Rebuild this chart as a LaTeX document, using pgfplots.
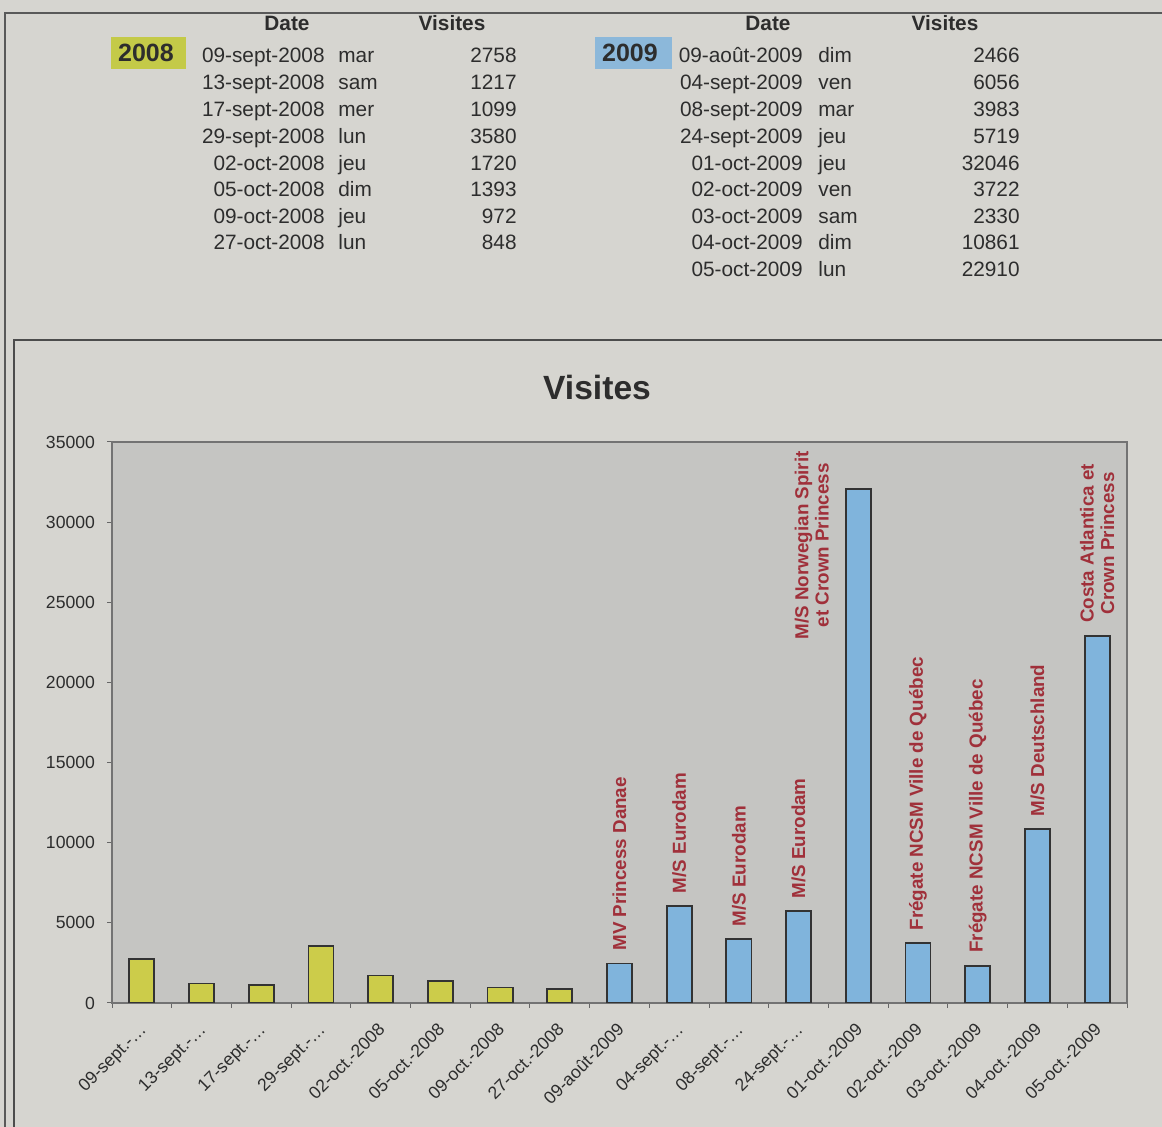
\documentclass[border=0pt]{standalone}
\usepackage{pgfplots}
\pgfplotsset{compat=1.18}
\usepackage{fontspec}
\setmainfont{Liberation Sans}
\definecolor{paper}{RGB}{214,213,208}
\definecolor{plotbg}{RGB}{197,197,194}
\definecolor{yellowbar}{RGB}{204,204,74}
\definecolor{bluebar}{RGB}{128,180,220}
\definecolor{yellowhl}{RGB}{196,202,72}
\definecolor{bluehl}{RGB}{140,184,218}
\definecolor{labelred}{RGB}{160,48,58}
\definecolor{ink}{RGB}{45,45,45}
\newcommand{\rowA}[4]{%
  \node[anchor=base east,inner sep=0pt] at (162.5pt,#1pt) {#2};
  \node[anchor=base west,inner sep=0pt] at (169pt,#1pt) {#3};
  \node[anchor=base east,inner sep=0pt] at (258.5pt,#1pt) {#4};}
\newcommand{\rowB}[4]{%
  \node[anchor=base east,inner sep=0pt] at (401.5pt,#1pt) {#2};
  \node[anchor=base west,inner sep=0pt] at (409pt,#1pt) {#3};
  \node[anchor=base east,inner sep=0pt] at (510pt,#1pt) {#4};}
\begin{document}
\begin{tikzpicture}
\useasboundingbox (0,0) rectangle (581pt,563.5pt);
\fill[paper] (0,0) rectangle (581pt,563.5pt);
% frames
\draw[line width=0.7pt, black!65] (2.5pt,0) -- (2.5pt,557pt) -- (581pt,557pt);
\draw[line width=1.1pt, black!70] (7pt,0) -- (7pt,393.5pt) -- (581pt,393.5pt);
% table
\begin{scope}[text=ink, font=\fontsize{10.4}{12}\selectfont]
\node[font=\bfseries\fontsize{10.4}{12}\selectfont] at (143.5pt,552pt) {Date};
\node[font=\bfseries\fontsize{10.4}{12}\selectfont] at (226pt,552pt) {Visites};
\node[font=\bfseries\fontsize{10.4}{12}\selectfont] at (384pt,552pt) {Date};
\node[font=\bfseries\fontsize{10.4}{12}\selectfont] at (472.5pt,552pt) {Visites};
\fill[yellowhl] (55.5pt,529pt) rectangle (93pt,545pt);
\node[font=\bfseries\fontsize{12.5}{14}\selectfont] at (73pt,537pt) {2008};
\fill[bluehl] (297.5pt,529pt) rectangle (336pt,545pt);
\node[font=\bfseries\fontsize{12.5}{14}\selectfont] at (315pt,537pt) {2009};
\rowA{532}{09-sept-2008}{mar}{2758}
\rowA{518.5}{13-sept-2008}{sam}{1217}
\rowA{505}{17-sept-2008}{mer}{1099}
\rowA{491.5}{29-sept-2008}{lun}{3580}
\rowA{478}{02-oct-2008}{jeu}{1720}
\rowA{465}{05-oct-2008}{dim}{1393}
\rowA{451.5}{09-oct-2008}{jeu}{972}
\rowA{438.5}{27-oct-2008}{lun}{848}
\rowB{532}{09-août-2009}{dim}{2466}
\rowB{518.5}{04-sept-2009}{ven}{6056}
\rowB{505}{08-sept-2009}{mar}{3983}
\rowB{491.5}{24-sept-2009}{jeu}{5719}
\rowB{478}{01-oct-2009}{jeu}{32046}
\rowB{465}{02-oct-2009}{ven}{3722}
\rowB{451.5}{03-oct-2009}{sam}{2330}
\rowB{438.5}{04-oct-2009}{dim}{10861}
\rowB{425}{05-oct-2009}{lun}{22910}
\end{scope}
\node[text=ink, font=\bfseries\fontsize{16.8}{20}\selectfont] at (298.5pt,369.5pt) {Visites};
\begin{axis}[
  at={(56pt,62pt)}, anchor=south west,
  width=507.5pt, height=280.5pt, scale only axis,
  xmin=-0.5, xmax=16.5, ymin=0, ymax=35000,
  axis background/.style={fill=plotbg},
  axis line style={draw=black!55, line width=0.6pt},
  tick align=outside, tick pos=left,
  ytick={0,5000,...,35000},
  scaled y ticks=false,
  major tick length=2.5pt,
  tick style={black!60, line width=0.5pt},
  xtick={0,...,16},
  x tick style={draw=none},
  minor xtick={-0.5,0.5,...,16.5},
  minor x tick style={draw=black!60, line width=0.5pt},
  minor tick length=2.5pt,
  xticklabels={09-sept.-…,13-sept.-…,17-sept.-…,29-sept.-…,02-oct.-2008,05-oct.-2008,09-oct.-2008,27-oct.-2008,09-août-2009,04-sept.-…,08-sept.-…,24-sept.-…,01-oct.-2009,02-oct.-2009,03-oct.-2009,04-oct.-2009,05-oct.-2009},
  xticklabel style={rotate=45, anchor=north east, font=\fontsize{8.8}{10}\selectfont, text=ink, inner sep=1pt, yshift=-2.5pt, xshift=-5pt},
  yticklabel style={font=\fontsize{8.8}{10}\selectfont, text=ink, xshift=-2.5pt},
  /pgf/number format/.cd, 1000 sep={}, assume math mode=true,
]
\addplot[ybar, bar width=0.42, bar shift=0pt, fill=yellowbar, draw=black!80, line width=0.9pt]
  coordinates {(0,2758) (1,1217) (2,1099) (3,3580) (4,1720) (5,1393) (6,972) (7,848)};
\addplot[ybar, bar width=0.42, bar shift=0pt, fill=bluebar, draw=black!80, line width=0.9pt,
  point meta=explicit symbolic, nodes near coords,
  nodes near coords style={rotate=90, anchor=west, align=center, text=labelred,
    font=\bfseries\fontsize{9.4}{10.2}\selectfont, inner xsep=6pt, inner ysep=0pt}]
  coordinates {(8,2466) [MV Princess Danae] (9,6056) [M/S Eurodam] (10,3983) [M/S Eurodam]
   (11,5719) [M/S Eurodam] (12,32046) [] (13,3722) [Frégate NCSM Ville de Québec]
   (14,2330) [Frégate NCSM Ville de Québec] (15,10861) [M/S Deutschland]
   (16,22910) [{Costa Atlantica et\\Crown Princess}]};
\node[rotate=90, anchor=east, align=center, text=labelred, font=\bfseries\fontsize{9.4}{10.2}\selectfont, inner sep=0pt]
  at (axis cs:11.22,34450) {M/S Norwegian Spirit\\et Crown Princess};
\end{axis}
\end{tikzpicture}
\end{document}
